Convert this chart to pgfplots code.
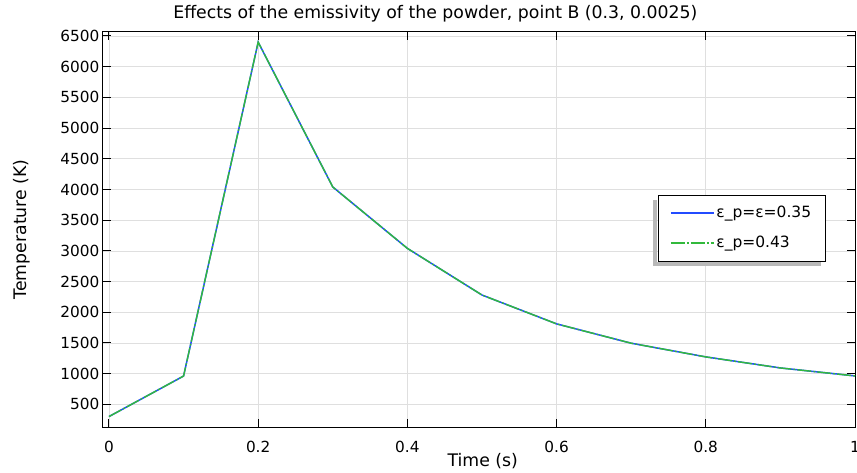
\documentclass[border=0pt]{standalone}
\usepackage{pgfplots}
\pgfplotsset{compat=1.18}
\usepackage{fontspec}
\setmainfont{DejaVu Sans}
\definecolor{cblue}{RGB}{35,75,255}
\definecolor{cgreen}{RGB}{50,185,60}
\begin{document}
\fontsize{15}{18}\selectfont
\begin{tikzpicture}
\begin{axis}[
  name=ax,
  scale only axis,
  width=752pt, height=395pt,
  xmin=-0.008, xmax=1.0, ymin=130, ymax=6565,
  xtick={0,0.2,0.4,0.6,0.8,1},
  xticklabels={0,0.2,0.4,0.6,0.8,1},
  ytick={500,1000,...,6500},
  /pgf/number format/assume math mode=true,
  /pgf/number format/1000 sep={},
  tick label style={font=\fontsize{15.3}{18}\selectfont},
  xticklabel style={anchor=base, yshift=-25pt},
  yticklabel style={xshift=1.5pt},
  title={Effects of the emissivity of the powder, point B (0.3, 0.0025)},
  title style={font=\fontsize{17.3}{20}\selectfont, at={(axis description cs:0.442,1)}, anchor=base, yshift=7pt},
  xlabel={Time (s)}, ylabel={Temperature (K)},
  xlabel style={font=\fontsize{17.3}{20}\selectfont, at={(axis description cs:0.505,0)}, anchor=base, yshift=-39pt},
  ylabel style={font=\fontsize{17.3}{20}\selectfont, at={(axis description cs:-0.1077,0.5)}, anchor=center, rotate=0},
  grid=major, grid style={gray!25, line width=0.6pt},
  axis line style={line width=1pt},
  tick align=inside, ticks=both,
  major tick length=8pt,
  tick style={black, line width=1pt},
  legend style={name=leg, at={(0.738,0.587)}, anchor=north west, draw=black,
    font=\fontsize{15.5}{18}\selectfont, fill=white, inner xsep=12pt, inner ysep=9pt,
    row sep=12pt},
  legend image post style={xscale=2.5},
  legend cell align=left,
]
\addplot[cblue, line width=1.5pt, sharp plot] coordinates {
(0,300) (0.1,960) (0.2,6400) (0.3,4040) (0.4,3040) (0.5,2280) (0.6,1810) (0.7,1495) (0.8,1272) (0.9,1092) (1.0,962)};
\addlegendentry{ε\_p=ε=0.35}
\addplot[cgreen, line width=1.4pt, sharp plot, dash pattern=on 14pt off 2pt on 2pt off 2pt] coordinates {
(0,300) (0.1,960) (0.2,6400) (0.3,4040) (0.4,3040) (0.5,2280) (0.6,1810) (0.7,1495) (0.8,1272) (0.9,1092) (1.0,962)};
\addlegendentry{ε\_p=0.43}
\end{axis}
\fill[gray!55] ([shift={(-4.5pt,-4.5pt)}]leg.south west) rectangle ([shift={(-0.5pt,-4.5pt)}]leg.north west);
\fill[gray!55] ([shift={(-4.5pt,-4.5pt)}]leg.south west) rectangle ([shift={(-4.5pt,-0.5pt)}]leg.south east);
\pgfresetboundingbox
\path[use as bounding box] ([shift={(-103pt,-45pt)}]ax.south west) rectangle ([shift={(2pt,32pt)}]ax.north east);
\end{tikzpicture}
\end{document}
